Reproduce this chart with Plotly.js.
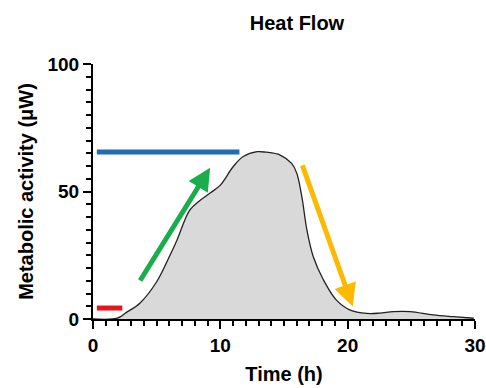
<!DOCTYPE html>
<html><head><meta charset="utf-8">
<script src="https://cdn.plot.ly/plotly-3.0.1.min.js"></script>
<style>body{margin:0;background:#fff}#c{width:486px;height:388px}</style>
</head><body><div id="c"></div>
<script>
const timeH = [0, 1.9, 2.6, 3.7, 5.0, 6.0, 6.6, 7.6, 8.4, 9.2, 10.0, 11.0, 11.8, 12.9, 13.6, 14.7, 15.6, 16.0, 16.4, 16.8, 17.3, 18.1, 19.1, 20.2, 21.5, 22.5, 23.6, 24.9, 26.7, 28.3, 29.9];
const heat  = [0, 0.3, 2.5, 6.3, 14.6, 24.5, 31, 42.7, 46.5, 49.4, 52.5, 59.7, 63.7, 65.6, 65.4, 64.3, 61, 57.2, 48, 34.9, 24.4, 15.3, 7.5, 3.5, 2.2, 2.3, 2.9, 2.9, 1.6, 0.9, 0.3];
const redX = [0.3, 2.3], redY = [4.3, 4.3];
const blueX = [0.3, 11.5], blueY = [65.5, 65.5];
const greenTail = [3.63, 14.5], greenTip = [9.2, 59.3];
const yellowTail = [16.4, 60.8], yellowTip = [20.4, 4.9];

const traces = [
  {x: timeH, y: heat, type: 'scatter', mode: 'lines', fill: 'tozeroy',
   fillcolor: '#d9d9d9', line: {color: '#222', width: 1.3, shape: 'spline', smoothing: 1}, hoverinfo: 'skip'},
  {x: redX, y: redY, type: 'scatter', mode: 'lines', line: {color: '#e8161c', width: 5}},
  {x: blueX, y: blueY, type: 'scatter', mode: 'lines', line: {color: '#1f6db4', width: 5}}
];
const fnt = {family: 'Liberation Sans, Arial, sans-serif', color: '#000'};
const layout = {
  width: 486, height: 388, showlegend: false,
  paper_bgcolor: '#fff', plot_bgcolor: '#fff',
  margin: {l: 93, r: 11, t: 64, b: 69},
  title: {text: '<b>Heat Flow</b>', x: 0.611, xanchor: 'center', y: 0.94, yanchor: 'middle',
          font: Object.assign({size: 20}, fnt)},
  xaxis: {range: [0, 30], dtick: 10, tick0: 0, showgrid: false, zeroline: false,
          showline: true, linewidth: 2, linecolor: '#000', ticks: 'outside', ticklen: 8, tickwidth: 2, tickcolor: '#000',
          minor: {dtick: 1, ticks: 'outside', ticklen: 5, tickwidth: 2, tickcolor: '#000', showgrid: false},
          tickfont: Object.assign({size: 19, weight: 'bold'}, fnt),
          title: {text: '<b>Time (h)</b>', font: Object.assign({size: 20}, fnt), standoff: 12}},
  yaxis: {range: [0, 100], dtick: 50, tick0: 0, showgrid: false, zeroline: false,
          showline: true, linewidth: 2, linecolor: '#000', ticks: 'outside', ticklen: 8, tickwidth: 2, tickcolor: '#000',
          minor: {dtick: 5, ticks: 'outside', ticklen: 5, tickwidth: 2, tickcolor: '#000', showgrid: false},
          tickfont: Object.assign({size: 19, weight: 'bold'}, fnt),
          title: {text: '<b>Metabolic activity (μW)</b>', font: Object.assign({size: 20}, fnt), standoff: 8}},
  annotations: [
    {x: greenTip[0], y: greenTip[1], ax: greenTail[0], ay: greenTail[1], axref: 'x', ayref: 'y', xref: 'x', yref: 'y',
     text: '', showarrow: true, arrowhead: 2, arrowsize: 0.9, arrowwidth: 5, arrowcolor: '#1aad4b'},
    {x: yellowTip[0], y: yellowTip[1], ax: yellowTail[0], ay: yellowTail[1], axref: 'x', ayref: 'y', xref: 'x', yref: 'y',
     text: '', showarrow: true, arrowhead: 2, arrowsize: 0.9, arrowwidth: 5, arrowcolor: '#fbb900'}
  ]
};
Plotly.newPlot('c', traces, layout, {displayModeBar: false, staticPlot: true});
</script></body></html>
